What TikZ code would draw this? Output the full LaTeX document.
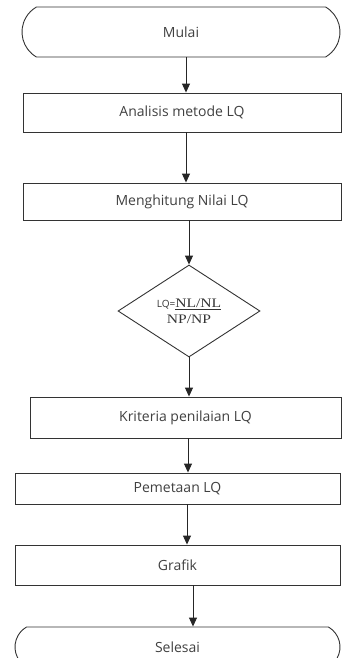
\documentclass[tikz,border=0pt]{standalone}
\usepackage{fontspec}
\setmainfont{Open Sans}
\newfontfamily\rumusfont[FakeStretch=1.2]{Liberation Serif}
\usetikzlibrary{shapes,arrows.meta,positioning,calc}

\begin{document}
\begin{tikzpicture}[x=1pt, y=-1pt,
        proses/.style={rectangle, draw=black!80, line width=0.9pt, inner sep=0pt, text=black!75, font=\fontsize{14}{16}\selectfont},
        terminal/.style={proses, rounded rectangle, rounded rectangle arc length=120},
        keputusan/.style={diamond, draw=black!80, line width=0.9pt, inner sep=0pt, minimum width=142pt, minimum height=92pt, align=center, text=black!80, font=\rumusfont\fontsize{13}{16}\selectfont},
        arrow/.style={-{Triangle[length=9pt,width=8pt]}, line width=1pt, draw=black!85}
    ]
    \useasboundingbox (0,0) rectangle (341,658);

    % Mulai
    \node[terminal, minimum width=318pt, minimum height=50pt] (mulai) at (181,32) {Mulai};

    % Analisis metode LQ
    \node[proses, minimum width=318pt, minimum height=39pt] (analisis) at (182,112.5) {Analisis metode LQ};

    % Menghitung Nilai LQ
    \node[proses, minimum width=318pt, minimum height=37pt] (hitung) at (182,201.5) {Menghitung Nilai LQ};

    % Rumus LQ
    \node[keputusan] (rumus) at (189,311) {{\normalfont\fontsize{10}{12}\selectfont LQ=}\underline{NL/NL}\\NP/NP};

    % Kriteria penilaian LQ
    \node[proses, minimum width=311pt, minimum height=41pt] (kriteria) at (185.5,417.5) {Kriteria penilaian LQ};

    % Pemetaan LQ
    \node[proses, minimum width=325pt, minimum height=31pt] (pemetaan) at (177.5,488.5) {Pemetaan LQ};

    % Grafik
    \node[proses, minimum width=325pt, minimum height=40pt] (grafik) at (177.5,565) {Grafik};

    % Selesai
    \node[terminal, minimum width=325pt, minimum height=40pt] (selesai) at (177.5,647) {Selesai};

    % Arrows
    \draw[arrow] (186,0 |- mulai.south) -- (186,0 |- analisis.north);
    \draw[arrow] (186,0 |- analisis.south) -- (186,0 |- hitung.north);
    \draw[arrow] (hitung.south -| rumus.north) -- (rumus.north);
    \draw[arrow] (rumus.south) -- (rumus.south |- kriteria.north);
    \draw[arrow] (188,0 |- kriteria.south) -- (188,0 |- pemetaan.north);
    \draw[arrow] (187,0 |- pemetaan.south) -- (187,0 |- grafik.north);
    \draw[arrow] (193,0 |- grafik.south) -- (193,0 |- selesai.north);

\end{tikzpicture}
\end{document}
